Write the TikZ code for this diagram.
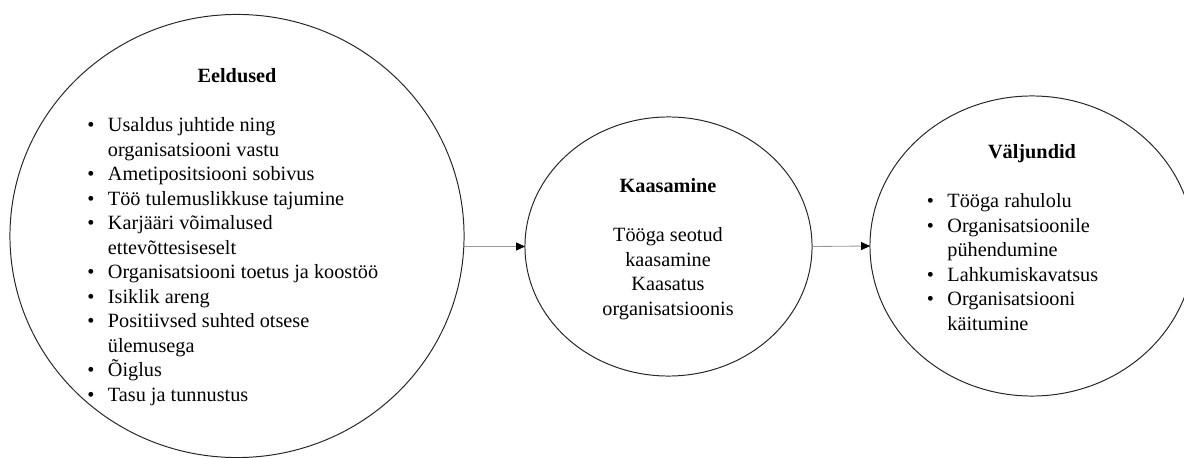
\documentclass[tikz,border=0pt]{standalone}
\usepackage{fontspec}
\setmainfont{Liberation Serif}
\usetikzlibrary{shapes.geometric,arrows.meta}
\begin{document}
\begin{tikzpicture}[x=0.025cm,y=-0.025cm]
  \tikzstyle{bubble}=[ellipse,draw=black!85,line width=0.7pt,inner sep=0pt,outer sep=0pt]
  \tikzstyle{txt}=[inner sep=0pt,font=\fontsize{14.4pt}{17.4pt}\selectfont]
  \tikzstyle{link}=[draw=black!40,line width=0.6pt,-{Triangle[black,length=0.22cm,width=0.2cm]}]
  \useasboundingbox (0,0) rectangle (1184,458);

  \node[bubble,minimum width=11.35cm,minimum height=11.075cm] (E) at (237,236) {};
  \node[txt,anchor=base] (E_t) at (237,83) {\textbf{Eeldused}};
  \node[txt,anchor=base west] (E_l) at (87,132)
        {\begin{tabular}[t]{@{}l@{\hspace{0.34cm}}l@{}}
          \textbullet & Usaldus juhtide ning\\
                      & organisatsiooni vastu\\
          \textbullet & Ametipositsiooni sobivus\\
          \textbullet & Töö tulemuslikkuse tajumine\\
          \textbullet & Karjääri võimalused\\
                      & ettevõttesiseselt\\
          \textbullet & Organisatsiooni toetus ja koostöö\\
          \textbullet & Isiklik areng\\
          \textbullet & Positiivsed suhted otsese\\
                      & ülemusega\\
          \textbullet & Õiglus\\
          \textbullet & Tasu ja tunnustus
         \end{tabular}};

  \node[bubble,minimum width=7.175cm,minimum height=6.475cm] (K) at (668.5,246.5) {};
  \node[txt,anchor=base] (K_t) at (668,193) {\textbf{Kaasamine}};
  \node[txt,anchor=base] (K_l) at (668,242)
        {\begin{tabular}[t]{@{}c@{}}
          Tööga seotud\\
          kaasamine\\
          Kaasatus\\
          organisatsioonis
         \end{tabular}};

  \node[bubble,minimum width=8.1cm,minimum height=7.5cm] (V) at (1032,246) {};
  \node[txt,anchor=base] (V_t) at (1032,159) {\textbf{Väljundid}};
  \node[txt,anchor=base west] (V_l) at (926.5,208)
        {\begin{tabular}[t]{@{}l@{\hspace{0.34cm}}l@{}}
          \textbullet & Tööga rahulolu\\
          \textbullet & Organisatsioonile\\
                      & pühendumine\\
          \textbullet & Lahkumiskavatsus\\
          \textbullet & Organisatsiooni\\
                      & käitumine
         \end{tabular}};

  \draw[link] (E.east |- K.west) -- (K.west);
  \draw[link] (K.east) -- (V.west);
\end{tikzpicture}
\end{document}
